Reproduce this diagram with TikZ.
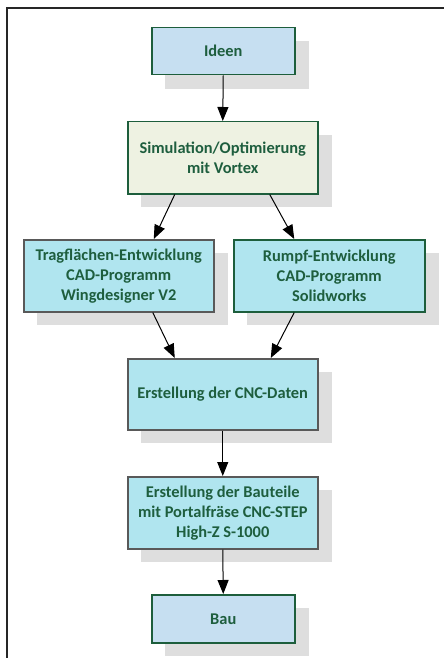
\documentclass[tikz,border=0pt]{standalone}
\usepackage{fontspec}
\setmainfont{Carlito}
\usetikzlibrary{arrows.meta}
\definecolor{bordergreen}{HTML}{1D5E3C}
\definecolor{bordergray}{HTML}{595959}
\definecolor{textgreen}{HTML}{1E5E3E}
\definecolor{fillblue}{HTML}{C6DFF1}
\definecolor{fillgreen}{HTML}{EEF2E2}
\definecolor{fillcyan}{HTML}{B0E5EF}
\definecolor{shadowgray}{HTML}{DEDEDE}
\tikzset{
  box/.style={draw, line width=1.5pt, inner sep=0pt, font=\fontsize{16.4}{20}\selectfont\bfseries,
    text=textgreen, align=center, anchor=north west},
  greenbox/.style={box, draw=bordergreen},
  graybox/.style={box, draw=bordergray},
  conn/.style={-{Triangle[length=14pt,width=11pt]}, line width=1pt, black},
}
\begin{document}
\begin{tikzpicture}[x=1pt,y=-1pt]
\useasboundingbox (0,0) rectangle (444,658);
\fill[white] (0,0) rectangle (444,658);
\draw[line width=1.5pt, black!85] (7,660) -- (7,8) -- (446,8);
% shadows
\fill[shadowgray] (165,41) rectangle (309,89);
\fill[shadowgray] (141,135) rectangle (332,207);
\fill[shadowgray] (37,253) rectangle (228,325);
\fill[shadowgray] (247,253) rectangle (439,325);
\fill[shadowgray] (141,372) rectangle (332,443);
\fill[shadowgray] (141,490) rectangle (332,562);
\fill[shadowgray] (165,608) rectangle (309,656);
% boxes
\node[greenbox, fill=fillblue, minimum width=143pt, minimum height=47pt] (ideen) at (151,27) {Ideen};
\node[greenbox, fill=fillgreen, minimum width=190pt, minimum height=72pt] (sim) at (127,121) {Simulation/Optimierung\\mit Vortex};
\node[graybox, fill=fillcyan, minimum width=190pt, minimum height=72pt] (trag) at (23,239) {Tragflächen-Entwicklung\\CAD-Programm\\Wingdesigner V2};
\node[greenbox, fill=fillcyan, minimum width=191pt, minimum height=72pt] (rumpf) at (233,239) {Rumpf-Entwicklung\\CAD-Programm\\Solidworks};
\node[graybox, fill=fillcyan, minimum width=190pt, minimum height=71pt] (cnc) at (127,358) {Erstellung der CNC-Daten};
\node[graybox, fill=fillcyan, minimum width=190pt, minimum height=72pt] (teile) at (127,476) {Erstellung der Bauteile\\mit Portalfräse CNC-STEP\\High-Z S-1000};
\node[greenbox, fill=fillblue, minimum width=143pt, minimum height=48pt] (bau) at (151,594) {Bau};
% connectors
\draw[conn] (ideen.south) -- (sim.north);
\draw[conn] ([xshift=-48pt]sim.south) -- ([xshift=35pt]trag.north);
\draw[conn] ([xshift=47pt]sim.south) -- ([xshift=-35pt]rumpf.north);
\draw[conn] ([xshift=34pt]trag.south) -- ([xshift=-48pt]cnc.north);
\draw[conn] ([xshift=-35pt]rumpf.south) -- ([xshift=48pt]cnc.north);
\draw[conn] (cnc.south) -- (teile.north);
\draw[conn] (teile.south) -- (bau.north);
\end{tikzpicture}
\end{document}
